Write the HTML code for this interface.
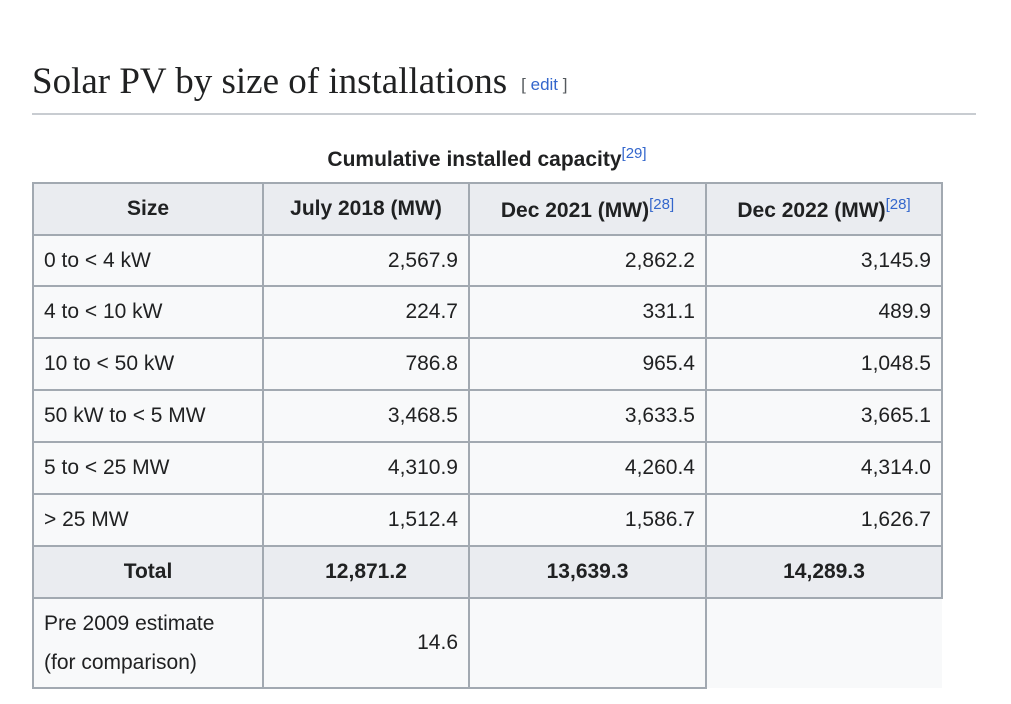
<!DOCTYPE html>
<html><head><meta charset="utf-8"><style>
body{margin:0;width:1011px;height:704px;background:#fff;position:relative;overflow:hidden;font-family:"Liberation Sans",sans-serif;color:#202122}
h2{position:absolute;left:32px;top:58px;margin:0;font-family:"Liberation Serif",serif;font-weight:normal;font-size:37px;line-height:48px}
.edit{font-family:"Liberation Sans",sans-serif;font-size:17px;color:#54595d;margin-left:14px;vertical-align:middle}
.edit a{color:#3366cc;text-decoration:none}
.rule{position:absolute;left:32px;top:113px;width:944px;height:2px;background:#c8ccd1}
.cap{position:absolute;left:32px;width:910px;top:145px;text-align:center;font-weight:bold;font-size:21px}
sup{font-size:15px;font-weight:normal;color:#3366cc;vertical-align:8px}
table{position:absolute;left:32px;top:182px;border-collapse:collapse;font-size:21px;table-layout:fixed}
td,th{border:2px solid #a2a9b1;background:#f8f9fa;padding:0 10px;height:48px}
th{background:#eaecf0;font-weight:bold;text-align:center}
td.n{text-align:right}
td.b{font-weight:bold;text-align:center;background:#eaecf0}
td.x{border:none}
</style></head><body>
<h2>Solar PV by size of installations<span class="edit">[ <a>edit</a> ]</span></h2>
<div class="rule"></div>
<div class="cap">Cumulative installed capacity<sup>[29]</sup></div>
<table>
<colgroup><col style="width:230px"><col style="width:206px"><col style="width:237px"><col style="width:236px"></colgroup>
<tr style="height:52px"><th>Size</th><th>July 2018 (MW)</th><th>Dec 2021 (MW)<sup>[28]</sup></th><th>Dec 2022 (MW)<sup>[28]</sup></th></tr>
<tr style="height:51px"><td>0 to &lt; 4 kW</td><td class="n">2,567.9</td><td class="n">2,862.2</td><td class="n">3,145.9</td></tr>
<tr style="height:52px"><td>4 to &lt; 10 kW</td><td class="n">224.7</td><td class="n">331.1</td><td class="n">489.9</td></tr>
<tr style="height:52px"><td>10 to &lt; 50 kW</td><td class="n">786.8</td><td class="n">965.4</td><td class="n">1,048.5</td></tr>
<tr style="height:52px"><td>50 kW to &lt; 5 MW</td><td class="n">3,468.5</td><td class="n">3,633.5</td><td class="n">3,665.1</td></tr>
<tr style="height:52px"><td>5 to &lt; 25 MW</td><td class="n">4,310.9</td><td class="n">4,260.4</td><td class="n">4,314.0</td></tr>
<tr style="height:52px"><td>&gt; 25 MW</td><td class="n">1,512.4</td><td class="n">1,586.7</td><td class="n">1,626.7</td></tr>
<tr style="height:52px"><td class="b">Total</td><td class="b">12,871.2</td><td class="b">13,639.3</td><td class="b">14,289.3</td></tr>
<tr style="height:90px"><td style="line-height:39px">Pre 2009 estimate<br>(for comparison)</td><td class="n">14.6</td><td></td><td class="x"></td></tr>
</table>
</body></html>
